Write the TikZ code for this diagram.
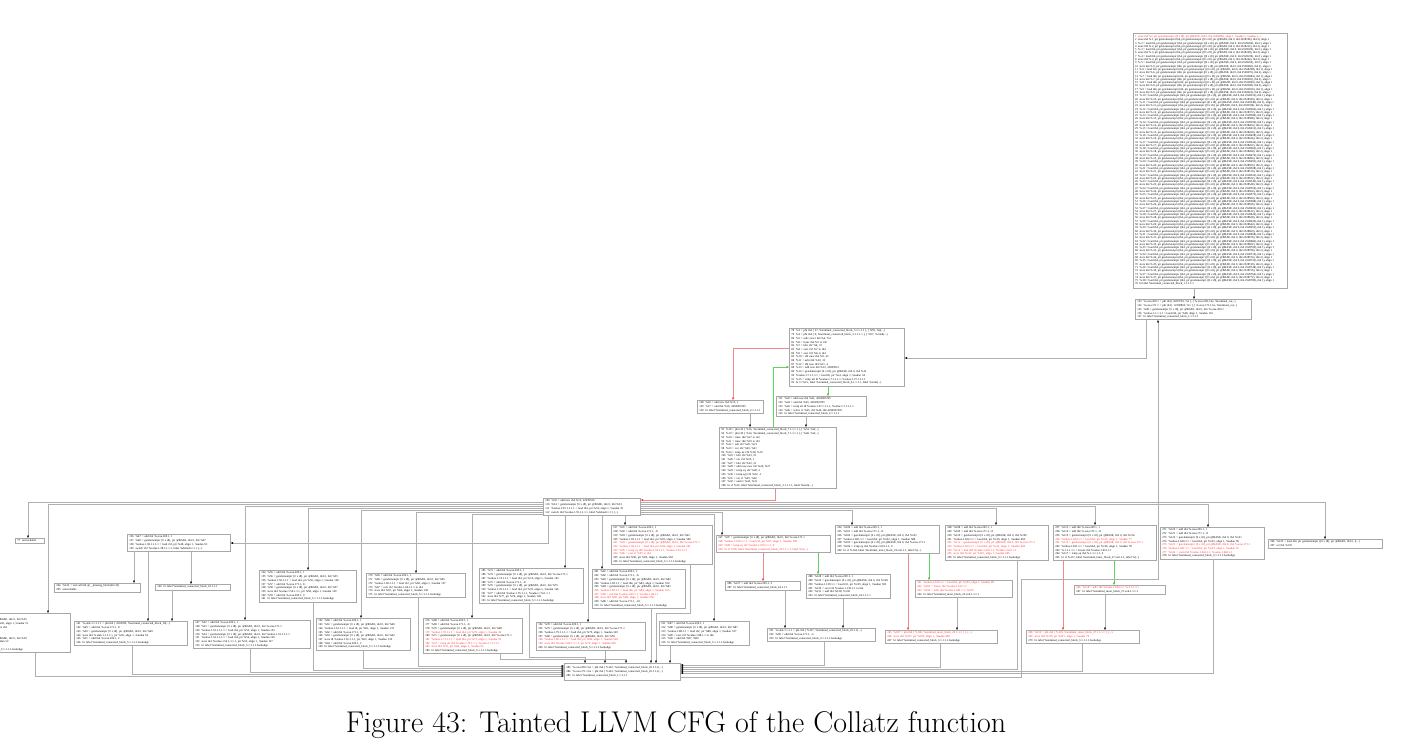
\documentclass[tikz,border=0pt]{standalone}
\usepackage{fontspec}
\usepackage{xcolor}
\usepackage{tikz}
\usetikzlibrary{arrows.meta}
\newfontfamily\cfgfont{Liberation Serif}
\definecolor{boxgray}{HTML}{A8A8A8}
\definecolor{lngray}{HTML}{B0B0B0}
\definecolor{taint}{HTML}{FF2A2A}
\definecolor{cfgred}{HTML}{EE8C8C}
\definecolor{cfggreen}{HTML}{5CD65C}
\newcommand\tcblk{\%terminal\_connected\_block\_}
\newcommand\tiblk{\%terminal\_inner\_block\_}
\newcommand\gepx{getelementptr [0 x i8], ptr @BASE, i64 0, i64}
\newcommand\gepc{ptr getelementptr ([0 x i8], ptr @BASE, i64 0, i64}
\newcommand\tnt[1]{\textcolor{taint}{#1}}

\begin{document}
\begin{tikzpicture}[x=1pt,y=-1pt,
    blk/.style={draw=boxgray,line width=0.6pt,anchor=north west,align=left,
                inner xsep=2pt,inner ysep=1.6pt,text width=#1,
                font=\cfgfont\fontsize{2.9}{3.7}\selectfont},
    aline/.style={anchor=base west,inner sep=0pt,
                  font=\cfgfont\fontsize{2.9}{3.3}\selectfont},
    arr/.style={draw=lngray,line width=0.5pt,
                -{Triangle[length=2.4pt,width=1.8pt,color=black]}},
    arrred/.style={draw=cfgred,line width=0.5pt,
                   -{Triangle[length=2.4pt,width=1.8pt,color=taint]}},
    arrgrn/.style={draw=cfggreen,line width=0.5pt,
                   -{Triangle[length=2.4pt,width=1.8pt,color=cfggreen!80!black]}},
    captext/.style={anchor=base,font=\fontsize{30}{36}\selectfont}
  ]
    \useasboundingbox (0,0) rectangle (1403,755);

    % entry block, one line per store / load
    \node[draw=boxgray,line width=0.6pt,anchor=north west,inner sep=0pt,
          minimum width=154pt,minimum height=255pt] (b1) at (1133,33) {};
    \foreach \i in {1,...,76}{
      \edef\k{\the\numexpr\i/2\relax}
      \edef\adr{\the\numexpr2528180+8*\i\relax}
      \ifnum\i=1
        \node[aline,text=taint] (a\i) at ([shift={(2,4.4)}]b1.north west)
          {1~~store i64 \%1, \gepc{} 2558280), align 1, !taudan 1, !noalias (...)};
      \else\ifnum\i=76
        \node[aline] (a\i) at ([shift={(2,{4.4+3.3*(\i-1)})}]b1.north west)
          {76~~br label \tcblk1.1.1.1.1};
      \else\ifodd\i
        \node[aline] (a\i) at ([shift={(2,{4.4+3.3*(\i-1)})}]b1.north west)
          {\i~~\%.\k{} = load i64, ptr getelementptr (i64, \gepc{} \adr), i64 1), align 1};
      \else
        \node[aline] (a\i) at ([shift={(2,{4.4+3.3*(\i-1)})}]b1.north west)
          {\i~~store i64 \%.\k, ptr getelementptr (i64, \gepc{} \adr), i64 2), align 1};
      \fi\fi\fi
    }

    \node[blk=112pt] (b123) at (1135,299) {123~~\%.sroa.209.1 = phi i64 [ 8203794, \%1 ], [ \%.sroa.209.1.be, \%terminal\_co(...)\\
124~~\%.sroa.171.1 = phi i64 [ 12309805, \%1 ], [ \%.sroa.171.1.be, \%terminal\_co(...)\\
125~~\%48 = \gepx{} \%.sroa.209.1\\
126~~\%value.1.1.1.1.1 = load i64, ptr \%48, align 1, !taudan 116\\
127~~br label \tcblk1.1.1.1.1};

    % inner loop
    \node[blk=111pt] (b78) at (789,328) {78~~\%3 = phi i64 [ 37, \tcblk5.1.1.1.1 ], [ \%59, \%4(...)\\
79~~\%4 = phi i64 [ 0, \tcblk5.1.1.1.1 ], [ \%57, \%cond(...)\\
80~~\%5 = udiv exact i64 \%4, \%3\\
81~~\%6 = trunc i64 \%5 to i32\\
82~~\%7 = lshr i32 \%6, 31\\
83~~\%8 = zext i32 \%7 to i64\\
84~~\%9 = zext i32 \%6 to i64\\
85~~\%10 = shl nuw i64 \%9, 32\\
86~~\%11 = ashr i64 \%10, 32\\
87~~\%12 = shl nsw i64 \%11, 4\\
88~~\%13 = add nsw i64 \%12, 32895912\\
89~~\%14 = \gepx{} \%13\\
90~~\%value.1.7.1.1.1.1 = load i8, ptr \%14, align 1, !taudan 34\\
91~~\%15 = icmp ult i8 \%value.1.7.1.1.1.1, \%value.1.27.1.1.1.1\\
92~~br i1 \%15, label \tcblk6.1.1.1.1, label \%term(...)};

    \node[blk=62pt] (b128) at (697,400) {128~~\%16 = add nsw i64 \%15, 1\\
129~~\%17 = and i64 \%16, 4294967295\\
130~~br label \tcblk2.1.1.1.1};

    \node[blk=86pt] (b131) at (776,396) {131~~\%43 = add nuw i64 \%41, 4294967295\\
132~~\%44 = and i64 \%43, 4294967295\\
133~~\%45 = icmp slt i8 \%value.1.27.1.1.1.1, \%value.1.7.1.1.1.1\\
134~~\%46 = select i1 \%45, i64 \%44, i64 4294967295\\
135~~br label \tcblk2.1.1.1.1};

    \node[blk=113pt] (b93) at (719,427) {93~~\%18 = phi i32 [ \%16, \tcblk7.1.1.1.1 ], [ \%53, \%4(...)\\
94~~\%19 = phi i32 [ \%14, \tcblk7.1.1.1.1 ], [ \%46, \%4(...)\\
95~~\%20 = trunc i64 \%17 to i32\\
96~~\%21 = trunc i64 \%19 to i32\\
97~~\%22 = sub i32 \%20, \%21\\
98~~\%23 = xor i32 \%20, \%21\\
99~~\%24 = icmp ne i32 \%18, \%19\\
100~~\%25 = lshr i32 \%23, 31\\
101~~\%26 = xor i32 \%25, 1\\
102~~\%27 = lshr i32 \%22, 31\\
103~~\%28 = add nuw nsw i32 \%26, \%27\\
104~~\%29 = icmp eq i32 \%28, 2\\
105~~\%30 = icmp sgt i32 \%22, -1\\
106~~\%31 = xor i1 \%29, \%30\\
107~~\%32 = and i1 \%24, \%31\\
108~~br i1 \%32, label \tcblk3.1.1.1.1, label \%term(...)};

    % dispatch
    \node[blk=93pt] (b109) at (543,498) {109~~\%33 = add nsw i64 \%12, 22039520\\
110~~\%34 = \gepx{} \%33\\
111~~\%value.1.55.1.1.1.1 = load i64, ptr \%34, align 1, !taudan 35\\
112~~switch i64 \%value.1.55.1.1.1.1, label \%default.1.1 [ (...)};

    \node[blk=25pt] (b77) at (15,538) {77~~unreachable};

    \node[blk=118pt] (b113) at (-52,613) {113~~\%35 = add i64 \%.sroa.209.1, 1\\
114~~\%36 = \gepx{} \%35\\
115~~\%value.1.35.1.1.1.1 = load i32, ptr \%36, align 1, !taudan 51\\
116~~\%37 = zext i32 \%value.1.35.1.1.1.1 to i64\\
117~~\%38 = add nsw i64 \%37, 22039520\\
118~~\%39 = add i64 \%.sroa.171.1, 1\\
119~~\%40 = \gepx{} \%39\\
120~~store i64 \%38, ptr \%40, align 1, !taudan 52\\
121~~\%41 = add i64 \%.sroa.209.1, 1\\
122~~br label \tcblk5.1.1.1.1.backedge};

    \node[blk=99pt] (b136) at (127,534) {136~~\%47 = add i64 \%.sroa.209.1, 1\\
137~~\%48 = \gepx{} \%47\\
138~~\%value.1.38.1.1.1.1 = load i32, ptr \%48, align 1, !taudan 53\\
139~~switch i32 \%value.1.38.1.1.1.1, label \%default.1.1 [ (...)};

    \node[blk=82pt] (b294) at (54,583) {294~~\%132 = tail call i64 @\_\_missing\_block(i64 33)\\
295~~unreachable};

    \node[blk=71pt] (b140) at (155,584) {140~~br label \tcblk10.1.1.1};

    \node[blk=109pt] (b141) at (74,621) {141~~\%.sink.1.1.1.1.1 = phi i64 [ 2203950, \tcblk10(...)\\
142~~\%49 = add i64 \%.sroa.171.1, 8\\
143~~\%50 = \gepx{} \%49\\
144~~store i64 \%.sink.1.1.1.1.1, ptr \%50, align 1, !taudan 54\\
145~~\%51 = add i64 \%.sroa.209.1, 2\\
146~~br label \tcblk5.1.1.1.1.backedge};

    \node[blk=113pt] (b147) at (193,620) {147~~\%52 = add i64 \%.sroa.209.1, 1\\
148~~\%53 = \gepx{} \%.sroa.171.1\\
149~~\%value.1.53.1.1.1.1 = load i64, ptr \%53, align 1, !taudan 125\\
150~~\%54 = \gepx{} \%value.1.53.1.1.1.1\\
151~~\%value.1.54.1.1.1.1 = load i64, ptr \%54, align 1, !taudan 126\\
152~~store i64 \%value.1.54.1.1.1.1, ptr \%53, align 1, !taudan 127\\
153~~br label \tcblk5.1.1.1.1.backedge};

    \node[blk=93pt] (b154) at (259,570) {154~~\%55 = add i64 \%.sroa.209.1, 1\\
155~~\%56 = \gepx{} \%55\\
156~~\%value.1.56.1.1.1 = load i64, ptr \%56, align 1, !taudan 128\\
157~~\%57 = add i64 \%.sroa.171.1, 8\\
158~~\%58 = \gepx{} \%57\\
159~~store i64 \%value.1.56.1.1.1, ptr \%58, align 1, !taudan 129\\
160~~\%59 = add i64 \%.sroa.209.1, 9\\
161~~br label \tcblk5.1.1.1.1.backedge};

    \node[blk=90pt] (b162) at (316,618) {162~~\%60 = add i64 \%.sroa.209.1, 1\\
163~~\%61 = \gepx{} \%60\\
164~~\%value.1.61.1.1.1 = load i8, ptr \%61, align 1, !taudan 131\\
165~~\%62 = add i64 \%.sroa.171.1, 8\\
166~~\%63 = \gepx{} \%62\\
167~~store i8 \%value.1.61.1.1.1, ptr \%63, align 1, !taudan 132\\
168~~\%64 = add i64 \%.sroa.209.1, 2\\
169~~br label \tcblk5.1.1.1.1.backedge};

    \node[blk=95pt] (b170) at (366,573) {170~~\%65 = add i64 \%.sroa.209.1, 1\\
171~~\%66 = \gepx{} \%65\\
172~~\%value.1.66.1.1.1 = load i32, ptr \%66, align 1, !taudan 137\\
173~~\%67 = sext i32 \%value.1.66.1.1.1 to i64\\
174~~store i64 \%67, ptr \%66, align 1, !taudan 138\\
175~~br label \tcblk5.1.1.1.1.backedge};

    \node[blk=95pt] (b176) at (423,618) {176~~\%68 = add i64 \%.sroa.209.1, 1\\
177~~\%69 = add i64 \%.sroa.171.1, -8\\
178~~\%70 = \gepx{} \%68\\
\tnt{179~~\%value.1.70.1.1.1 = load i64, ptr \%70, align 1, !taudan 49}\\
180~~\%71 = \gepx{} \%.sroa.171.1\\
\tnt{181~~\%value.1.71.1.1.1 = load i64, ptr \%71, align 1, !taudan 91}\\
\tnt{182~~\%72 = icmp ult i64 \%value.1.70.1.1.1, \%value.1.71.1.1.1}\\
\tnt{183~~store i64 \%72, ptr \%69, align 1, !taudan 92}\\
184~~br label \tcblk5.1.1.1.1.backedge};

    \node[blk=100pt] (b185) at (479,568) {185~~\%73 = add i64 \%.sroa.209.1, 1\\
186~~\%74 = \gepx{} \%.sroa.171.1\\
187~~\%value.1.74.1.1.1 = load i64, ptr \%74, align 1, !taudan 143\\
188~~\%75 = add i64 \%.sroa.171.1, -8\\
189~~\%76 = \gepx{} \%75\\
190~~\%value.1.76.1.1.1 = load i64, ptr \%76, align 1, !taudan 145\\
191~~\%77 = add i64 \%value.1.76.1.1.1, \%value.1.74.1.1.1\\
192~~store i64 \%77, ptr \%76, align 1, !taudan 146\\
193~~br label \tcblk5.1.1.1.1.backedge};

    \node[blk=105pt] (b194) at (536,622) {194~~\%78 = add i64 \%.sroa.209.1, 1\\
195~~\%79 = \gepx{} \%.sroa.171.1\\
196~~\%value.1.79.1.1.1.1 = load i64, ptr \%79, align 1, !taudan 149\\
197~~\%80 = \gepx{} \%78\\
\tnt{198~~\%value.1.80.1.1.1.1 = load i64, ptr \%80, align 1, !taudan 548}\\
\tnt{199~~store i64 \%value.1.80.1.1.1.1, ptr \%79, align 1, !taudan 549}\\
200~~br label \tcblk5.1.1.1.1.backedge};

    \node[blk=89pt] (b201) at (592,569) {201~~\%81 = add i64 \%.sroa.209.1, 1\\
202~~\%82 = add i64 \%.sroa.171.1, -8\\
203~~\%83 = \gepx{} \%82\\
204~~\%value.1.83.1.1 = load i64, ptr \%83, align 1, !taudan 554\\
205~~\%84 = \gepx{} \%81\\
\tnt{206~~\%value.1.84.1.1 = load i64, ptr \%84, align 1, !taudan 555}\\
\tnt{207~~\%85 = sub i64 \%value.1.83.1.1, \%value.1.84.1.1}\\
\tnt{208~~store i64 \%85, ptr \%83, align 1, !taudan 556}\\
209~~\%86 = add i64 \%.sroa.171.1, -16\\
210~~br label \tcblk5.1.1.1.1.backedge};

    \node[blk=86pt] (b211) at (659,621) {211~~\%87 = add i64 \%.sroa.209.1, 1\\
212~~\%88 = \gepx{} \%87\\
213~~\%value.1.88.1.1 = load i32, ptr \%88, align 1, !taudan 537\\
214~~\%89 = zext i32 \%value.1.88.1.1 to i64\\
215~~\%90 = add i64 \%87, \%89\\
216~~br label \tcblk5.1.1.1.1.backedge};

    \node[blk=97pt] (b217) at (611,525) {217~~\%91 = add i64 \%.sroa.209.1, 1\\
218~~\%92 = add i64 \%.sroa.171.1, -8\\
219~~\%93 = \gepx{} \%92\\
220~~\%value.1.93.1.1.1 = load i64, ptr \%93, align 1, !taudan 560\\
\tnt{221~~\%94 = \gepx{} \%.sroa.171.1}\\
\tnt{222~~\%value.1.94.1.1.1 = load i64, ptr \%94, align 1, !taudan 561}\\
\tnt{223~~\%95 = icmp eq i64 \%value.1.94.1.1.1, \%value.1.93.1.1.1}\\
\tnt{224~~\%96 = zext i1 \%95 to i64}\\
225~~store i64 \%96, ptr \%93, align 1, !taudan 562\\
226~~br label \tcblk5.1.1.1.1.backedge};

    \node[blk=110pt] (b227) at (716,535) {227~~\%97 = \gepx{} \%.sroa.171.1\\
\tnt{228~~\%value.1.350.1.1.1 = load i32, ptr \%97, align 1, !taudan 508}\\
\tnt{229~~\%98 = icmp eq i32 \%value.1.350.1.1.1, 0}\\
\tnt{230~~br i1 \%98, label \tcblk29.1.1.1.1, label \%te(...)}};

    \node[blk=71pt] (b286) at (725,581) {286~~\%127 = add i64 \%.sroa.209.1, 3\\
287~~br label \tcblk24.1.1.1};

    \node[blk=80pt] (b288) at (806,574) {288~~\%128 = add i64 \%.sroa.209.1, 1\\
289~~\%129 = \gepx{} \%128\\
290~~\%value.1.139.1.1 = load i32, ptr \%129, align 1, !taudan 505\\
291~~\%130 = sext i32 \%value.1.139.1.1 to i64\\
292~~\%131 = add i64 \%128, \%130\\
293~~br label \tcblk24.1.1.1.1};

    \node[blk=104pt] (b231) at (767,628) {231~~\%.sink.1.1.1.1 = phi i64 [ \%127, \tcblk29.1.1(...)\\
232~~\%99 = add i64 \%.sroa.171.1, -4\\
233~~br label \tcblk3.1.1.1.1.backedge};

    \node[blk=100pt] (b234) at (835,525) {234~~\%100 = add i64 \%.sroa.209.1, 1\\
235~~\%101 = add i64 \%.sroa.171.1, -8\\
236~~\%102 = \gepx{} \%101\\
237~~\%value.1.601.1.1 = load i64, ptr \%102, align 1, !taudan 588\\
238~~\%103 = \gepx{} \%.sroa.171.1\\
239~~\%104 = icmp eq i64 \%value.1.601.1.1, 0\\
240~~br i1 \%104, label \tiblk23.exit.1.1, label \%(...)};

    \node[blk=93pt] (b241) at (915,580) {\tnt{241~~\%value.1.615.1.1 = load i64, ptr \%103, align 1, !taudan 89}\\
\tnt{242~~\%105 = freeze i64 \%value.1.615.1.1}\\
\tnt{243~~\%106 = udiv i64 \%value.1.601.1.1, \%105}\\
244~~br label \tiblk23.exit.1.1.1.1};

    \node[blk=108pt] (b245) at (885,630) {\tnt{245~~\%107 = phi i64 [ \%106, \tiblk23.1.1.1.1 ], (...)}\\
\tnt{246~~store i64 \%107, ptr \%102, align 1, !taudan 598}\\
247~~br label \tcblk3.1.1.1.1.backedge};

    \node[blk=99pt] (b248) at (945,525) {248~~\%108 = add i64 \%.sroa.209.1, 1\\
249~~\%109 = add i64 \%.sroa.171.1, -8\\
250~~\%110 = \gepx{} \%109\\
251~~\%value.1.622.1.1 = load i64, ptr \%110, align 1, !taudan 603\\
\tnt{252~~\%111 = \gepx{} \%.sroa.171.1}\\
\tnt{253~~\%value.1.623.1.1 = load i64, ptr \%111, align 1, !taudan 604}\\
\tnt{254~~\%112 = mul i64 \%value.1.623.1.1, \%value.1.622.1.1}\\
\tnt{255~~store i64 \%112, ptr \%110, align 1, !taudan 605}\\
256~~br label \tcblk3.1.1.1.1.backedge};

    \node[blk=99pt] (b257) at (1053,525) {257~~\%113 = add i64 \%.sroa.209.1, 1\\
258~~\%114 = add i64 \%.sroa.171.1, -8\\
259~~\%115 = \gepx{} \%114\\
\tnt{260~~\%value.1.630.1.1 = load i64, ptr \%115, align 1, !taudan 77}\\
\tnt{261~~\%116 = \gepx{} \%.sroa.171.1}\\
262~~\%value.1.631.1.1 = load i64, ptr \%116, align 1, !taudan 78\\
263~~\%.1.1.1.1.1 = freeze i64 \%value.1.631.1.1\\
264~~\%117 = icmp eq i64 \%.1.1.1.1.1, 0\\
265~~br i1 \%117, label \tiblk27.exit.1.1, label \%(...)};

    \node[blk=87pt] (b266) at (1074,585) {\tnt{266~~\%118 = udiv i64 \%value.1.630.1.1, \%.1.1.1.1.1}\\
267~~br label \tiblk27.exit.1.1.1.1};

    \node[blk=109pt] (b268) at (1026,630) {\tnt{268~~\%119 = phi i64 [ \%118, \tiblk27.1.1.1.1 ], (...)}\\
\tnt{269~~store i64 \%119, ptr \%115, align 1, !taudan 79}\\
270~~br label \tcblk3.1.1.1.1.backedge};

    \node[blk=100pt] (b271) at (1160,527) {271~~\%120 = add i64 \%.sroa.209.1, 1\\
272~~\%121 = add i64 \%.sroa.171.1, -8\\
273~~\%122 = \gepx{} \%121\\
274~~\%value.1.640.1.1 = load i64, ptr \%122, align 1, !taudan 90\\
\tnt{275~~\%123 = \gepx{} \%.sroa.171.1}\\
\tnt{276~~\%value.1.641.1.1 = load i64, ptr \%123, align 1, !taudan 91}\\
\tnt{277~~\%124 = srem i64 \%value.1.641.1.1, \%value.1.640.1.1}\\
278~~br label \tcblk3.1.1.1.1.backedge};

    \node[blk=110pt] (b296) at (1268,539) {296~~\%135 = load i64, ptr getelementptr ([0 x i8], ptr @BASE, i64 0, i(...)\\
297~~ret i64 \%135};

    % merge block of the loop
    \node[blk=112pt,minimum height=17pt] (b283) at (564,663) {283~~\%.sroa.209.1.be = phi i64 [ \%122, \tcblk20.1.1.1(...)\\
284~~\%.sroa.171.1.be = phi i64 [ \%124, \tcblk20.1.1.1(...)\\
285~~br label \tcblk1.1.1.1.1};

    \node[captext] (caption) at (676,732) {Figure 43: Tainted LLVM CFG of the Collatz function};

    % upper edges
    \draw[arr] (b1.south -| 1194,0) -- (b123.north -| 1194,0);
    \draw[arr] (b123.south -| 1146,0) |- (b78.east |- 0,358);
    \draw[arrred] (b78.west |- 0,348) -| (b128.north -| 733,0);
    \draw[arrgrn] (b78.south -| 828,0) -- (b131.north -| 828,0);
    \draw[arr] (b128.south -| 750,0) -- (b93.north -| 750,0);
    \draw[arr] (b131.south -| 806,0) -- (b93.north -| 806,0);
    \draw[arrgrn] (b93.north -| 773,0) |- (b78.west |- 0,367);
    \draw[arrred] (b93.south -| 775,0) |- (b109.east |- 0,500);

    % switch cases, left
    \draw[arr] (b109.west |- 0,502) -| (b77.north -| 28,0);
    \draw[arr] (b109.west |- 0,504) -| (b113.north -| 48,0);
    \draw[arr] (b109.west |- 0,506) -| (b147.north -| 245,0);
    \draw[arr] (b109.west |- 0,508) -| (b154.north -| 308,0);
    \draw[arr] (b109.west |- 0,510) -| (b162.north -| 361,0);
    \draw[arr] (b109.west |- 0,512) -| (b170.north -| 416,0);
    \draw[arr] (b109.west |- 0,514) -| (b176.north -| 472,0);
    \draw[arr] (b109.south -| 548,0) |- (b136.east |- 0,543);
    \draw[arr] (b109.south -| 565,0) -- (b185.north -| 565,0);
    \draw[arr] (b109.south -| 588,0) -- (b194.north -| 588,0);
    \draw[arr] (b109.south -| 602,0) -- (b201.north -| 602,0);
    \draw[arr] (b109.south -| 625,0) -- (b217.north -| 625,0);

    % switch cases, right
    \draw[arr] (b109.east |- 0,502) -| (b296.north -| 1325,0);
    \draw[arr] (b109.east |- 0,504) -| (b271.north -| 1208,0);
    \draw[arr] (b109.east |- 0,506) -| (b257.north -| 1095,0);
    \draw[arr] (b109.east |- 0,508) -| (b248.north -| 996,0);
    \draw[arr] (b109.east |- 0,510) -| (b234.north -| 852,0);
    \draw[arr] (b109.east |- 0,512) -| (b227.north -| 722,0);
    \draw[arr] (b109.east |- 0,514) -| (b211.north -| 714,0);

    % inner switch
    \draw[arr] (b136.south -| 134,0) -- (b294.north -| 134,0);
    \draw[arr] (b136.south -| 148,0) -- (b141.north -| 148,0);
    \draw[arr] (b136.south -| 191,0) -- (b140.north -| 191,0);
    \draw[arr] (b140.south -| 172,0) -- (b141.north -| 172,0);

    % branches inside the cases
    \draw[arrred] (b227.south -| 763,0) -- (b286.north -| 763,0);
    \draw[arrgrn] (b227.south -| 818,0) -- (b288.north -| 818,0);
    \draw[arr] (b286.south -| 785,0) -- (b231.north -| 785,0);
    \draw[arr] (b288.south -| 843,0) -- (b231.north -| 843,0);
    \draw[arrred] (b234.south -| 908,0) -- (b245.north -| 908,0);
    \draw[arrgrn] (b234.south -| 929,0) -- (b241.north -| 929,0);
    \draw[arr] (b241.south -| 957,0) -- (b245.north -| 957,0);
    \draw[arrred] (b257.south -| 1063,0) -- (b268.north -| 1063,0);
    \draw[arrgrn] (b257.south -| 1114,0) -- (b266.north -| 1114,0);
    \draw[arr] (b266.south -| 1105,0) -- (b268.north -| 1105,0);

    % back edges into the merge block
    \draw[arr] (b170.south -| 418,0) |- (b283.west |- 0,666);
    \draw[arr] (b162.south -| 363,0) |- (b283.west |- 0,668);
    \draw[arr] (b154.south -| 313,0) |- (b283.west |- 0,670);
    \draw[arr] (b147.south -| 250,0) |- (b283.west |- 0,672);
    \draw[arr] (b141.south -| 132,0) |- (b283.west |- 0,674);
    \draw[arr] (b113.south -| 35,0) |- (b283.west |- 0,676);
    \draw[arr] (b185.south -| 529,0) |- (585,657) -- (b283.north -| 585,0);
    \draw[arr] (b176.south -| 500,0) |- (626,659.5) -- (b283.north -| 626,0);
    \draw[arr] (b194.south -| 605,0) -- (b283.north -| 605,0);
    \draw[arr] (b201.south -| 651,0) -- (b283.north -| 651,0);
    \draw[arr] (b217.south -| 690,0) -- ++(0,49) -| (b283.north -| 656,0);
    \draw[arr] (b211.south -| 670,0) -- (b283.north -| 670,0);
    \draw[arr] (b231.south -| 824,0) |- (b283.east |- 0,665);
    \draw[arr] (b245.south -| 940,0) |- (b283.east |- 0,667);
    \draw[arr] (b248.south -| 1017,0) |- (b283.east |- 0,669);
    \draw[arr] (b268.south -| 1082,0) |- (b283.east |- 0,671);
    \draw[arr] (b271.south -| 1213,0) |- (b283.east |- 0,673);

    % loop back to the header
    \draw[arr] (b283.east |- 0,677) -| (1021,579) -| (b123.south -| 1158,0);
  \end{tikzpicture}
\end{document}
